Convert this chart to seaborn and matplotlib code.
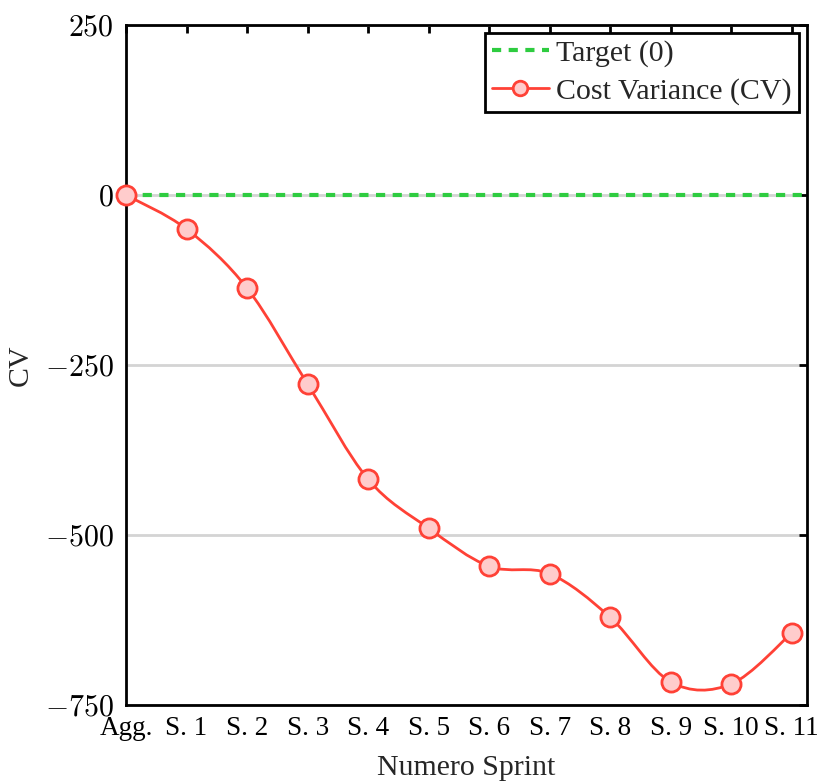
import matplotlib
matplotlib.use("Agg")
import matplotlib.pyplot as plt
import numpy as np
import pandas as pd
import seaborn as sns
from matplotlib.lines import Line2D
from matplotlib.path import Path
from matplotlib.patches import PathPatch
from matplotlib.ticker import FuncFormatter

# data
sprints = ["Agg.", "S. 1", "S. 2", "S. 3", "S. 4", "S. 5", "S. 6",
           "S. 7", "S. 8", "S. 9", "S. 10", "S. 11"]
cv_values = [0, -50, -137, -278, -418, -490, -546, -557, -621, -716, -719, -644]
target_value = 0
y_ticks = [250, 0, -250, -500, -750]

RED = "#ff4136"
RED_FILL = "#ffcccc"
GREEN = "#2ecc40"
FS = 21.5
DASH = (0, (2.2, 1.8))

sns.set_theme(style="white")
plt.rcParams["font.family"] = ["Liberation Serif", "DejaVu Serif"]
plt.rcParams["mathtext.fontset"] = "cm"

df = pd.DataFrame({"pos": np.arange(len(sprints)), "cv": cv_values})

fig, ax = plt.subplots(figsize=(8.2, 7.83), dpi=100)
fig.subplots_adjust(left=0.1537, right=0.984, top=0.968, bottom=0.0996)

ax.axhline(target_value, color=GREEN, lw=3, ls=DASH, zorder=3)


def smooth_path(xs, ys):
    # catmull-rom curve through the points, drawn as cubic bezier segments
    pts = np.column_stack([xs, ys]).astype(float)
    ext = np.vstack([pts[0], pts, pts[-1]])
    verts = [pts[0]]
    codes = [Path.MOVETO]
    for i in range(len(pts) - 1):
        p0, p1, p2, p3 = ext[i], ext[i + 1], ext[i + 2], ext[i + 3]
        verts += [p1 + (p2 - p0) / 6, p2 - (p3 - p1) / 6, p2]
        codes += [Path.CURVE4] * 3
    return Path(verts, codes)


ax.add_patch(PathPatch(smooth_path(df["pos"], df["cv"]), fc="none",
                       ec=RED, lw=2, zorder=4))
sns.scatterplot(data=df, x="pos", y="cv", ax=ax, s=190, color=RED_FILL,
                edgecolor=RED, linewidth=2, zorder=5, clip_on=False)

ax.set_xlim(0, 11.25)
ax.set_ylim(-750, 250)
ax.set_xticks(df["pos"])
ax.set_xticklabels(sprints)
ax.set_yticks(y_ticks)
ax.yaxis.set_major_formatter(FuncFormatter(lambda v, _: f"${v:g}$"))
ax.yaxis.grid(True, color="#d4d4d4", lw=2)
ax.set_axisbelow(True)

for s in ax.spines.values():
    s.set_visible(True)
    s.set_color("black")
    s.set_linewidth(2)
ax.tick_params(direction="in", length=6, width=2, top=True, right=True,
               labelsize=FS, pad=9, colors="black")
ax.tick_params(axis="x", pad=8, labelsize=19.5)

ax.set_xlabel("Numero Sprint", fontsize=FS, labelpad=10)
ax.set_ylabel("CV", fontsize=FS, labelpad=8)

handles = [
    Line2D([], [], color=GREEN, lw=3, ls=DASH),
    Line2D([], [], color=RED, lw=2, marker="o", markersize=10.5,
           markerfacecolor=RED_FILL, markeredgecolor=RED, markeredgewidth=2),
]
leg = ax.legend(handles, ["Target (0)", "Cost Variance (CV)"], loc="upper right",
                fontsize=FS, frameon=True, fancybox=False, framealpha=1,
                edgecolor="black", borderaxespad=0.25, handlelength=1.9,
                handletextpad=0.25, borderpad=0.25, labelspacing=0.35)
leg.get_frame().set_linewidth(2)

fig.savefig("out.png", dpi=100)
